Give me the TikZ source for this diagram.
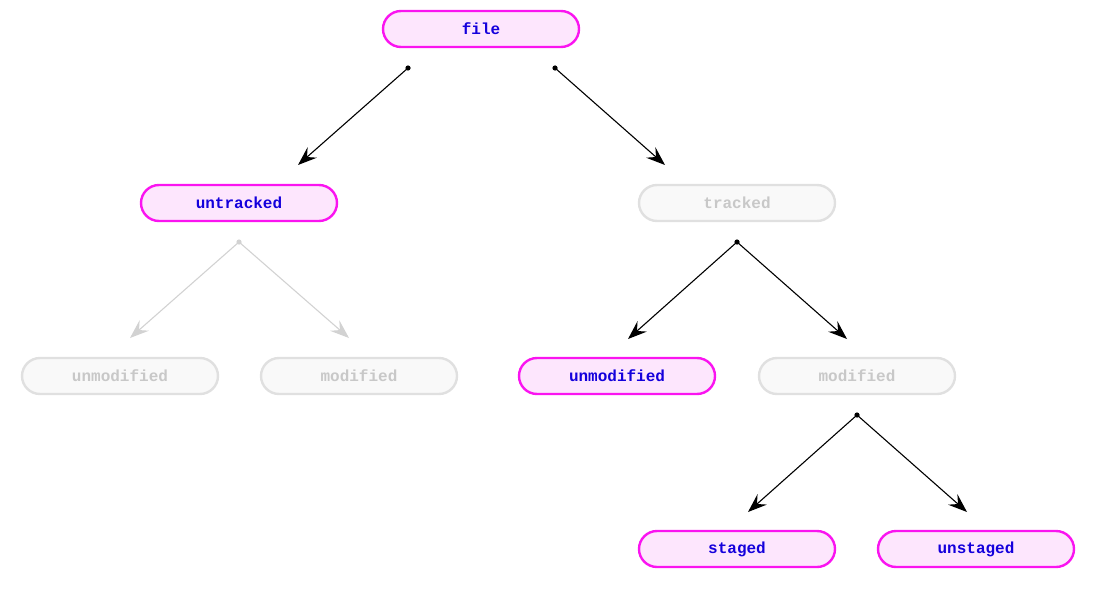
\documentclass[tikz,border=0pt]{standalone}
\usepackage{fontspec}
\setmonofont{Liberation Mono}
\usetikzlibrary{arrows.meta}
\definecolor{hotmag}{RGB}{250,20,240}
\definecolor{pinkfill}{RGB}{253,230,253}
\definecolor{deepblue}{RGB}{20,0,220}
\definecolor{greyline}{RGB}{224,224,224}
\definecolor{greyfill}{RGB}{249,249,249}
\definecolor{greytext}{RGB}{200,200,200}
\definecolor{greyarrow}{RGB}{210,210,210}

\begin{document}
\begin{tikzpicture}[x=1pt,y=-1pt,
  state/.style={rounded corners=18pt, minimum width=196pt, minimum height=36pt,
    line width=2.4pt, font=\fontsize{16}{19}\selectfont\ttfamily\bfseries},
  on/.style={state, draw=hotmag, fill=pinkfill, text=deepblue},
  off/.style={state, draw=greyline, fill=greyfill, text=greytext},
  link/.style={-{Stealth[length=19pt,width=14pt,inset=7pt]}, line width=1.1pt},
  ]
  \useasboundingbox (0,0) rectangle (1094,602);

  % the states
  \node[on]  (file)    at (481,29)  {file};
  \node[on]  (untr)    at (239,203) {untracked};
  \node[off] (tr)      at (737,203) {tracked};
  \node[off] (unmodl)  at (120,376) {unmodified};
  \node[off] (modl)    at (359,376) {modified};
  \node[on]  (unmodr)  at (617,376) {unmodified};
  \node[off] (modr)    at (857,376) {modified};
  \node[on]  (staged)  at (737,549) {staged};
  \node[on]  (unstaged) at (976,549) {unstaged};

  % branch points
  \coordinate (fileL) at (408,68);
  \coordinate (fileR) at (555,68);
  \coordinate (untrB) at (239,242);
  \coordinate (trB)   at (737,242);
  \coordinate (modrB) at (857,415);

  % arrow ends
  \coordinate (toUntr)   at (298,165);
  \coordinate (toTr)     at (665,165);
  \coordinate (toUnmodl) at (130,338);
  \coordinate (toModl)   at (349,338);
  \coordinate (toUnmodr) at (628,339);
  \coordinate (toModr)   at (847,339);
  \coordinate (toStaged) at (748,512);
  \coordinate (toUnst)   at (967,512);

  \fill (fileL) circle (2.6pt);
  \fill (fileR) circle (2.6pt);
  \draw[link] (fileL) -- (toUntr);
  \draw[link] (fileR) -- (toTr);

  \fill[greyarrow] (untrB) circle (2.6pt);
  \draw[link, greyarrow] (untrB) -- (toUnmodl);
  \draw[link, greyarrow] (untrB) -- (toModl);

  \fill (trB) circle (2.6pt);
  \draw[link] (trB) -- (toUnmodr);
  \draw[link] (trB) -- (toModr);

  \fill (modrB) circle (2.6pt);
  \draw[link] (modrB) -- (toStaged);
  \draw[link] (modrB) -- (toUnst);

\end{tikzpicture}
\end{document}
